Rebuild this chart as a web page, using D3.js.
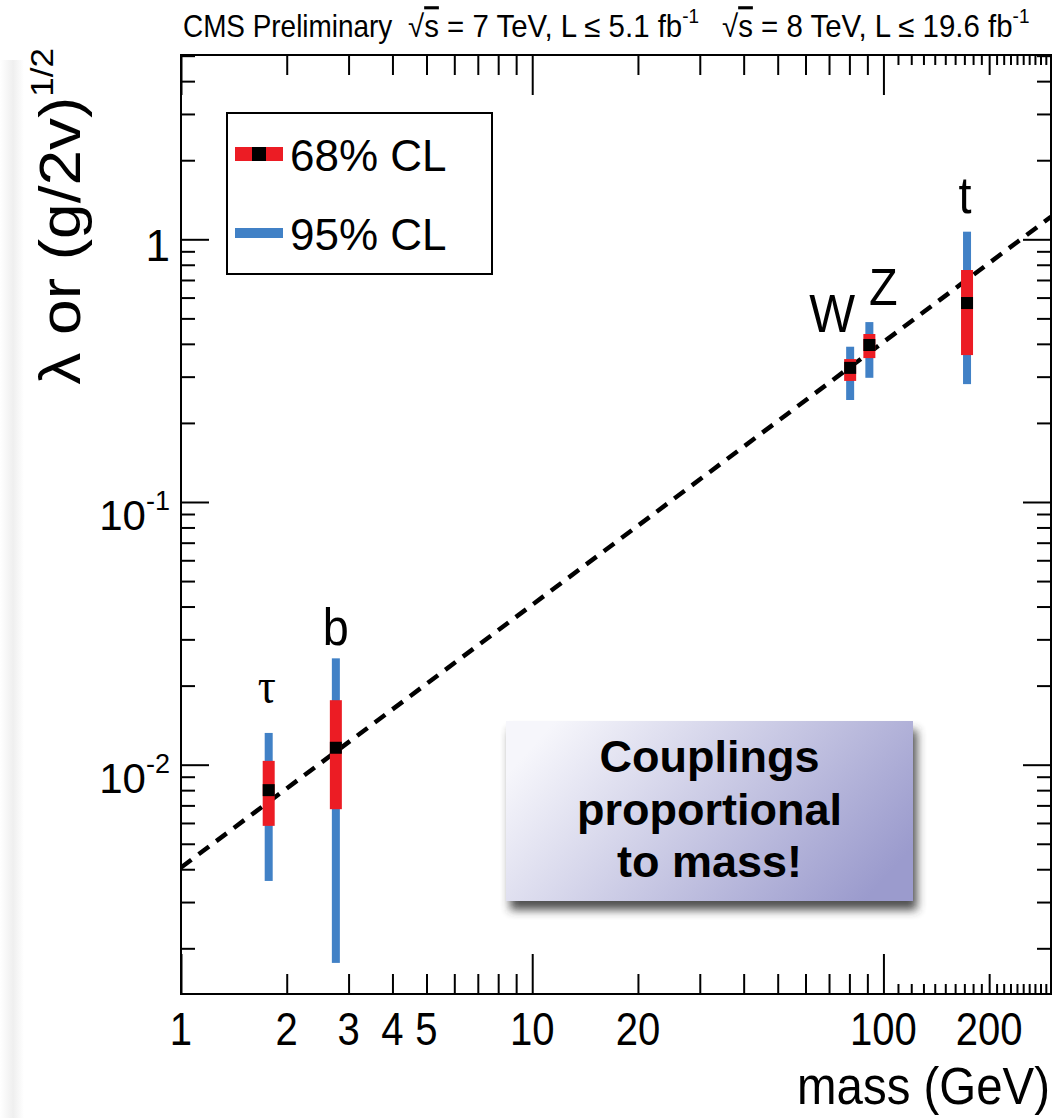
<!DOCTYPE html>
<html>
<head>
<meta charset="utf-8">
<script src="https://cdn.jsdelivr.net/npm/d3@7"></script>
<style>
  body { margin: 0; background: #fff; }
  svg { display: block; font-family: "Liberation Sans", Arial, Helvetica, sans-serif; }
</style>
</head>
<body>
<svg id="chart" width="1058" height="1118"></svg>
<script>
var particles = ["τ", "b", "W", "Z", "t"];
var masses = [1.777, 2.76, 80.4, 91.19, 173.0];
var central = [0.0080, 0.0116, 0.324, 0.396, 0.572];
var lo68 = [0.00585, 0.00677, 0.289, 0.353, 0.3625];
var hi68 = [0.01034, 0.0176, 0.350, 0.436, 0.764];
var lo95 = [0.00361, 0.00176, 0.2445, 0.297, 0.281];
var hi95 = [0.01321, 0.0254, 0.390, 0.484, 1.069];

// SM expectation: lambda = m / v
var vev = 246.22;
var lineMass = [1, 300];

// Axis ticks
var xLabels = [1, 2, 3, 4, 5, 10, 20, 100, 200];
var xMajor = [1, 10, 100];
var xMedium = [2, 3, 4, 5, 6, 7, 8, 9, 20, 30, 40, 50, 60, 70, 80, 90, 200];
var xSmall = [110, 120, 130, 140, 150, 160, 170, 180, 190, 210, 220, 230, 240, 250, 260, 270, 280, 290];
var yMajor = [0.01, 0.1, 1];
var yMinor = [0.002, 0.003, 0.004, 0.005, 0.006, 0.007, 0.008, 0.009,
              0.02, 0.03, 0.04, 0.05, 0.06, 0.07, 0.08, 0.09,
              0.2, 0.3, 0.4, 0.5, 0.6, 0.7, 0.8, 0.9, 2, 3, 4, 5];
var yLabelExp = { 0.01: "-2", 0.1: "-1" };

var pLeft = 181, pRight = 1051, pTop = 55, pBottom = 994;
var red = "#ec1c24", blue = "#4181c6";

var x = d3.scaleLog().domain([1, 300]).range([pLeft, pRight]);
var y = d3.scaleLog().domain([0.00134, 5.03]).range([pBottom, pTop]);

var svg = d3.select("#chart");
var defs = svg.append("defs");

// faint grey strip at the left edge of the scan
var strip = defs.append("linearGradient").attr("id", "strip");
strip.append("stop").attr("offset", "0%").attr("stop-color", "#fff");
strip.append("stop").attr("offset", "55%").attr("stop-color", "#efefef");
strip.append("stop").attr("offset", "100%").attr("stop-color", "#fff");
svg.append("rect").attr("x", 0).attr("y", 60).attr("width", 24).attr("height", 1058)
    .attr("fill", "url(#strip)");

defs.append("clipPath").attr("id", "plotclip")
    .append("rect").attr("x", pLeft).attr("y", pTop)
    .attr("width", pRight - pLeft).attr("height", pBottom - pTop);

// box gradient + shadow
var grad = defs.append("linearGradient").attr("id", "boxgrad")
    .attr("x1", "0%").attr("y1", "30%").attr("x2", "100%").attr("y2", "70%");
grad.append("stop").attr("offset", "0%").attr("stop-color", "#f6f6fb");
grad.append("stop").attr("offset", "100%").attr("stop-color", "#9b9bcd");
var shadow = defs.append("filter").attr("id", "shadow")
    .attr("x", "-10%").attr("y", "-10%").attr("width", "130%").attr("height", "140%");
shadow.append("feGaussianBlur").attr("stdDeviation", 5);

// ticks, using d3 axes on all four sides
function ticks(gen, values, size, tx, ty) {
  var g = svg.append("g").attr("transform", "translate(" + tx + "," + ty + ")")
    .call(gen.tickValues(values).tickSize(-size).tickFormat(""));
  g.select(".domain").remove();
  g.selectAll(".tick line").attr("stroke", "#000").attr("stroke-width", 2);
}
ticks(d3.axisBottom(x), xMajor, 40, 0, pBottom);
ticks(d3.axisBottom(x), xMedium, 20, 0, pBottom);
ticks(d3.axisBottom(x), xSmall, 10, 0, pBottom);
ticks(d3.axisTop(x), xMajor, 40, 0, pTop);
ticks(d3.axisTop(x), xMedium, 20, 0, pTop);
ticks(d3.axisTop(x), xSmall, 10, 0, pTop);
ticks(d3.axisLeft(y), yMajor, 28, pLeft, 0);
ticks(d3.axisLeft(y), yMinor, 14, pLeft, 0);
ticks(d3.axisRight(y), yMajor, 28, pRight, 0);
ticks(d3.axisRight(y), yMinor, 14, pRight, 0);

// frame
svg.append("rect").attr("x", pLeft).attr("y", pTop)
    .attr("width", pRight - pLeft).attr("height", pBottom - pTop)
    .attr("fill", "none").attr("stroke", "#000").attr("stroke-width", 2);

// condensed text helper (the original lettering is narrow)
function squeeze(cx, k) {
  return "translate(" + cx + ",0) scale(" + k + ",1) translate(" + (-cx) + ",0)";
}

// x tick labels
svg.append("g").selectAll("text").data(xLabels).enter().append("text")
    .attr("x", function(d) { return x(d); })
    .attr("y", 1045)
    .attr("text-anchor", "middle")
    .attr("font-size", 46)
    .attr("transform", function(d) { return squeeze(x(d), 0.87); })
    .text(function(d) { return d; });

// y tick labels
yMajor.forEach(function(v) {
  var t = svg.append("text").attr("text-anchor", "end").attr("x", 170);
  if (v === 1) {
    t.attr("y", y(v) + 22).attr("font-size", 44).text("1");
  } else {
    t.attr("y", y(v) + 28).attr("font-size", 42);
    t.append("tspan").text("10");
    t.append("tspan").attr("font-size", 27).attr("dy", -20).text(yLabelExp[v]);
  }
});

// axis titles
svg.append("text")
    .attr("x", 1050).attr("y", 1104)
    .attr("text-anchor", "end").attr("font-size", 51)
    .attr("transform", squeeze(1050, 0.93))
    .text("mass (GeV)");

var yt = svg.append("text")
    .attr("transform", "translate(80,48) scale(0.9,1) rotate(-90)")
    .attr("text-anchor", "end").attr("font-size", 64);
yt.append("tspan").text("λ or (g/2v)");
yt.append("tspan").attr("font-size", 35).attr("dy", -30).text("1/2");

// header
svg.append("text").attr("x", 183).attr("y", 37).attr("font-size", 31)
    .attr("transform", squeeze(183, 0.9)).text("CMS Preliminary");
function lumiText(xpos, rs, lumi) {
  var t = svg.append("text").attr("x", xpos).attr("y", 37).attr("font-size", 31)
      .attr("transform", squeeze(xpos, 0.95));
  t.append("tspan").text("√");
  t.append("tspan").attr("text-decoration", "overline").text("s");
  t.append("tspan").text(" = " + rs + " TeV, L ≤ " + lumi + " fb");
  t.append("tspan").attr("font-size", 20).attr("dy", -14).text("-1");
}
lumiText(408, 7, "5.1");
lumiText(722, 8, "19.6");

// SM line
var plot = svg.append("g").attr("clip-path", "url(#plotclip)");
plot.append("path")
    .datum(lineMass)
    .attr("d", d3.line()
        .x(function(m) { return x(m); })
        .y(function(m) { return y(m / vev); }))
    .attr("fill", "none").attr("stroke", "#000")
    .attr("stroke-width", 4.5).attr("stroke-dasharray", "13,9");

// error bars
var idx = d3.range(particles.length);
plot.selectAll(".b95").data(idx).enter().append("rect")
    .attr("x", function(i) { return x(masses[i]) - 4; })
    .attr("width", 8)
    .attr("y", function(i) { return y(hi95[i]); })
    .attr("height", function(i) { return y(lo95[i]) - y(hi95[i]); })
    .attr("fill", blue);
plot.selectAll(".b68").data(idx).enter().append("rect")
    .attr("x", function(i) { return x(masses[i]) - 6; })
    .attr("width", 12)
    .attr("y", function(i) { return y(hi68[i]); })
    .attr("height", function(i) { return y(lo68[i]) - y(hi68[i]); })
    .attr("fill", red);
plot.selectAll(".mk").data(idx).enter().append("rect")
    .attr("x", function(i) { return x(masses[i]) - 6; })
    .attr("y", function(i) { return y(central[i]) - 6; })
    .attr("width", 12).attr("height", 12)
    .attr("fill", "#000");

// particle labels
var labelOffset = [[-2, -30], [0, -13], [-18, -15], [14, -17], [-2, -19]];
svg.selectAll(".plabel").data(idx).enter().append("text")
    .attr("x", function(i) { return x(masses[i]) + labelOffset[i][0]; })
    .attr("y", function(i) { return y(hi95[i]) + labelOffset[i][1]; })
    .attr("text-anchor", "middle")
    .attr("font-family", function(i) { return i === 0 ? "'Liberation Serif', 'DejaVu Serif', serif" : null; })
    .attr("font-size", function(i) { return i === 0 ? 50 : (i === 2 ? 54 : 52); })
    .attr("transform", function(i) { return squeeze(x(masses[i]) + labelOffset[i][0], 0.9); })
    .text(function(i) { return particles[i]; });

// legend
var lg = svg.append("g");
lg.append("rect").attr("x", 227).attr("y", 113).attr("width", 265).attr("height", 161)
    .attr("fill", "#fff").attr("stroke", "#000").attr("stroke-width", 2);
lg.append("rect").attr("x", 235).attr("y", 147).attr("width", 48).attr("height", 14).attr("fill", red);
lg.append("rect").attr("x", 252).attr("y", 147).attr("width", 14).attr("height", 14).attr("fill", "#000");
lg.append("rect").attr("x", 235).attr("y", 228).attr("width", 48).attr("height", 10).attr("fill", blue);
lg.append("text").attr("x", 290).attr("y", 171).attr("font-size", 44).text("68% CL");
lg.append("text").attr("x", 290).attr("y", 250).attr("font-size", 44).text("95% CL");

// annotation box
var bx = 506, by = 721, bw = 407, bh = 180;
svg.append("rect").attr("x", bx + 4).attr("y", by + 9).attr("width", bw).attr("height", bh)
    .attr("fill", "#333").attr("opacity", 0.85).attr("filter", "url(#shadow)");
svg.append("rect").attr("x", bx).attr("y", by).attr("width", bw).attr("height", bh)
    .attr("fill", "url(#boxgrad)");
var note = ["Couplings", "proportional", "to mass!"];
svg.selectAll(".note").data(note).enter().append("text")
    .attr("x", bx + bw / 2)
    .attr("y", function(d, i) { return 772 + i * 52.5; })
    .attr("text-anchor", "middle")
    .attr("font-weight", "bold").attr("font-size", 45)
    .text(function(d) { return d; });
</script>
</body>
</html>
